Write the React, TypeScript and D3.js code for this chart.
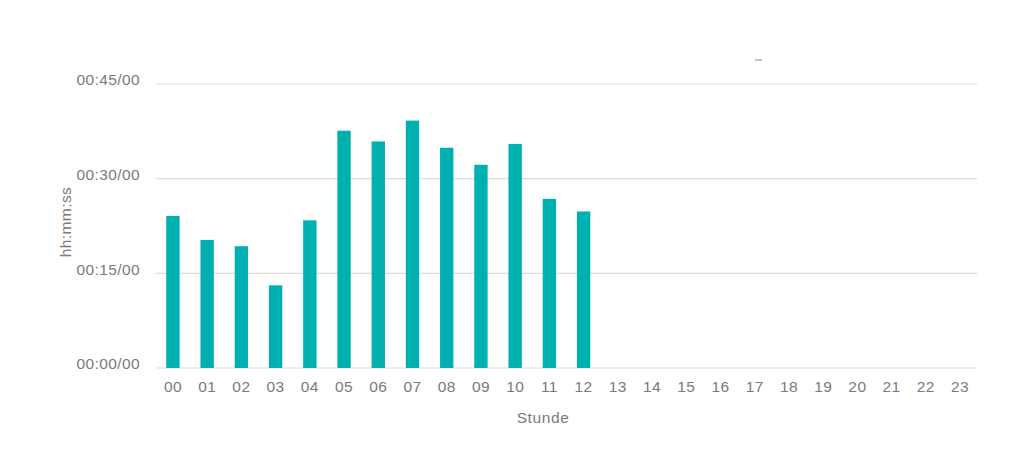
import React from 'react';
import * as d3 from 'd3';

// hours of the day and average duration per hour (minutes)
const hours = d3.range(24).map(h => String(h).padStart(2, '0'));
const durations: (number | null)[] = [
  24.1, 20.3, 19.3, 13.1, 23.4, 37.6, 35.9, 39.2, 34.9, 32.2, 35.5, 26.8, 24.8,
  null, null, null, null, null, null, null, null, null, null, null,
];
const yTicks = [0, 15, 30, 45];

const fmt = (m: number) => `00:${String(m).padStart(2, '0')}/00`;

const App: React.FC = () => {
  const width = 1024;
  const height = 468;
  const margin = { top: 84, right: 47, bottom: 100, left: 156 };
  const innerW = width - margin.left - margin.right;
  const innerH = height - margin.top - margin.bottom;

  const x = d3.scaleBand<string>().domain(hours).range([0, innerW]).paddingInner(0.61).paddingOuter(0.3);
  const y = d3.scaleLinear().domain([0, 45]).range([innerH, 0]);

  const font = '"Liberation Sans", Arial, sans-serif';
  const textColor = '#7a7a7a';

  return (
    <svg width={width} height={height} style={{ position: 'absolute', left: 0, top: 0, background: '#fff' }}>
      <g transform={`translate(${margin.left},${margin.top})`}>
        {yTicks.map(t => (
          <g key={t}>
            <line x1={0} x2={innerW} y1={y(t)} y2={y(t)} stroke="#dcdcdc" strokeWidth={1.2} />
            <text x={-16} y={y(t) - 4} dy="0.35em" textAnchor="end" fontFamily={font} fontSize={15.5} letterSpacing={0.4} fill={textColor}>
              {fmt(t)}
            </text>
          </g>
        ))}
        {durations.map((d, i) =>
          d == null ? null : (
            <rect
              key={hours[i]}
              x={x(hours[i])}
              y={y(d)}
              width={x.bandwidth()}
              height={innerH - y(d)}
              fill="#00b0b1"
            />
          )
        )}
        {hours.map(h => (
          <text
            key={h}
            x={(x(h) as number) + x.bandwidth() / 2}
            y={innerH + 24}
            textAnchor="middle"
            fontFamily={font}
            fontSize={15.5}
            letterSpacing={0.4}
            fill={textColor}
          >
            {h}
          </text>
        ))}
        <text x={387} y={innerH + 55} textAnchor="middle" fontFamily={font} fontSize={15.5} letterSpacing={0.6} fill={textColor}>
          Stunde
        </text>
        <text
          transform={`translate(${66 - margin.left},${222 - margin.top}) rotate(-90)`}
          textAnchor="middle"
          dy="0.35em"
          fontFamily={font}
          fontSize={15.5}
          letterSpacing={0.4}
          fill={textColor}
        >
          hh:mm:ss
        </text>
      </g>
      <line x1={755} x2={762} y1={60} y2={60} stroke="#888" strokeWidth={1} />
    </svg>
  );
};

export default App;
